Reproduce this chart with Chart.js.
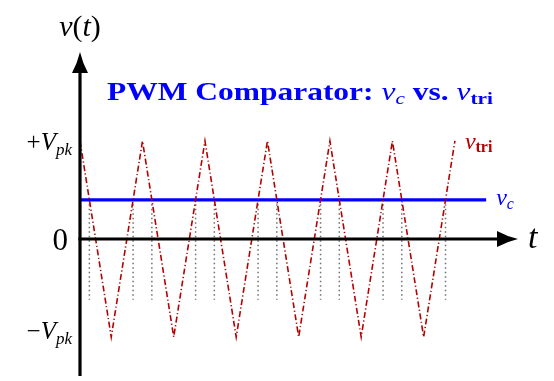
<!DOCTYPE html>
<html>
<head>
<meta charset="utf-8">
<script src="https://cdn.jsdelivr.net/npm/chart.js@4"></script>
<style>
  html, body { margin: 0; padding: 0; background: #fff; }
  #wrap { width: 554px; height: 381px; }
</style>
</head>
<body>
<div id="wrap"><canvas id="c" width="554" height="381"></canvas></div>
<script>
// ---- data (time in carrier periods, voltage in units of Vpk) ----
const triT = [0, 0.5, 1, 1.5, 2, 2.5, 3, 3.5, 4, 4.5, 5, 5.5, 6];
const triV = [1, -1, 1, -1, 1, -1, 1, -1, 1, -1, 1, -1, 1];
const vcT = [0, 6.5];
const vcLevel = 0.4;
const crossT = [0.15, 0.85, 1.15, 1.85, 2.15, 2.85, 3.15, 3.85, 4.15, 4.85, 5.15, 5.85];
const dotBottom = -0.62;
const axisX = [0, 7.01];
const axisY = [-1.398, 1.908];

const TRI_COLOR = '#b30000';
const BLUE = '#0000ff';
const SERIF = '"Liberation Serif", "DejaVu Serif", serif';

const triData = triT.map((t, i) => ({ x: t, y: triV[i] }));
const vcData = vcT.map(t => ({ x: t, y: vcLevel }));
const dotData = [];
crossT.forEach(t => { dotData.push({ x: t, y: vcLevel }, { x: t, y: dotBottom }, { x: t, y: null }); });

function drawRuns(ctx, runs, x, y, align, sx) {
  sx = sx || 1;
  let w = 0;
  runs.forEach(r => { ctx.font = r.f; r.w = ctx.measureText(r.t).width; w += r.w; });
  let cx = align === 'center' ? x - w * sx / 2 : align === 'right' ? x - w * sx : x;
  runs.forEach(r => {
    ctx.save();
    ctx.font = r.f; ctx.fillStyle = r.c;
    ctx.translate(cx, y + (r.dy || 0));
    ctx.scale(sx, 1);
    ctx.fillText(r.t, 0, 0);
    ctx.restore();
    cx += r.w * sx;
  });
  return w;
}
function measureRuns(ctx, runs) {
  let w = 0;
  runs.forEach(r => { ctx.font = r.f; w += ctx.measureText(r.t).width; });
  return w;
}

function arrow(ctx, tipX, tipY, dir, len, half) {
  ctx.beginPath();
  if (dir === 'up') {
    ctx.moveTo(tipX, tipY);
    ctx.quadraticCurveTo(tipX + half * 0.35, tipY + len * 0.55, tipX + half, tipY + len);
    ctx.lineTo(tipX - half, tipY + len);
    ctx.quadraticCurveTo(tipX - half * 0.35, tipY + len * 0.55, tipX, tipY);
  } else {
    ctx.moveTo(tipX, tipY);
    ctx.quadraticCurveTo(tipX - len * 0.55, tipY - half * 0.35, tipX - len, tipY - half);
    ctx.lineTo(tipX - len, tipY + half);
    ctx.quadraticCurveTo(tipX - len * 0.55, tipY + half * 0.35, tipX, tipY);
  }
  ctx.closePath();
  ctx.fill();
}

const decor = {
  id: 'decor',
  afterDatasetsDraw(chart) {
    const { ctx, scales: { x, y } } = chart;
    const x0 = x.getPixelForValue(0), y0 = y.getPixelForValue(0);
    const xEnd = x.getPixelForValue(axisX[1]);
    const yTop = y.getPixelForValue(axisY[1]);
    const yBot = y.getPixelForValue(axisY[0]);
    const yP = y.getPixelForValue(1), yM = y.getPixelForValue(-1);
    const yC = y.getPixelForValue(vcLevel);
    const xTri = x.getPixelForValue(triT[triT.length - 1]);
    const xVc = x.getPixelForValue(vcT[1]);
    ctx.save();
    ctx.strokeStyle = '#000'; ctx.fillStyle = '#000'; ctx.lineWidth = 3.2; ctx.lineCap = 'butt';
    ctx.beginPath(); ctx.moveTo(x0, yBot); ctx.lineTo(x0, yTop + 18); ctx.stroke();
    ctx.beginPath(); ctx.moveTo(x0 - 1.6, y0); ctx.lineTo(xEnd - 18, y0); ctx.stroke();
    arrow(ctx, x0, yTop, 'up', 21, 8);
    arrow(ctx, xEnd, y0, 'right', 21, 8);

    ctx.textBaseline = 'alphabetic';
    drawRuns(ctx, [
      { t: 'v', f: 'italic 30px ' + SERIF, c: '#000' },
      { t: '(', f: '30px ' + SERIF, c: '#000' },
      { t: 't', f: 'italic 30px ' + SERIF, c: '#000' },
      { t: ')', f: '30px ' + SERIF, c: '#000' }
    ], x0, 36, 'center');
    drawRuns(ctx, [{ t: 't', f: 'italic 34px ' + SERIF, c: '#000' }], xEnd + 10, y0 + 9, 'left');
    drawRuns(ctx, [{ t: '0', f: '31px ' + SERIF, c: '#000' }], x0 - 12, y0 + 11, 'right');
    drawRuns(ctx, [
      { t: '+', f: '25px ' + SERIF, c: '#000' },
      { t: 'V', f: 'italic 25px ' + SERIF, c: '#000' },
      { t: 'pk', f: 'italic 17px ' + SERIF, c: '#000', dy: 5 }
    ], x0 - 8, yP + 9, 'right');
    drawRuns(ctx, [
      { t: '\u2212', f: '25px ' + SERIF, c: '#000' },
      { t: 'V', f: 'italic 25px ' + SERIF, c: '#000' },
      { t: 'pk', f: 'italic 17px ' + SERIF, c: '#000', dy: 5 }
    ], x0 - 8, yM + 2, 'right');

    drawRuns(ctx, [
      { t: 'v', f: 'italic 24px ' + SERIF, c: TRI_COLOR },
      { t: 'tri', f: 'bold 16px ' + SERIF, c: TRI_COLOR, dy: 3 }
    ], xTri + 10, yP + 8, 'left');
    drawRuns(ctx, [
      { t: 'v', f: 'italic 24px ' + SERIF, c: BLUE },
      { t: 'c', f: 'italic 16px ' + SERIF, c: BLUE, dy: 4 }
    ], xVc + 10, yC + 5, 'left');

    const title = [
      { t: 'PWM Comparator: ', f: 'bold 25px ' + SERIF, c: BLUE },
      { t: 'v', f: 'italic 25px ' + SERIF, c: BLUE },
      { t: 'c', f: 'italic 17px ' + SERIF, c: BLUE, dy: 4 },
      { t: ' vs. ', f: 'bold 25px ' + SERIF, c: BLUE },
      { t: 'v', f: 'italic 25px ' + SERIF, c: BLUE },
      { t: 'tri', f: 'bold 17px ' + SERIF, c: BLUE, dy: 4 }
    ];
    const tw = measureRuns(ctx, title);
    drawRuns(ctx, title, 107, 100, 'left', 386 / tw);
    ctx.restore();
  }
};

new Chart(document.getElementById('c'), {
  type: 'line',
  data: {
    datasets: [
      { data: triData, borderColor: TRI_COLOR, borderWidth: 1.6, borderDash: [6, 2.5, 1.2, 2.5], pointRadius: 0, tension: 0, clip: false, order: 1 },
      { data: vcData, borderColor: BLUE, borderWidth: 3.2, pointRadius: 0, clip: false, order: 2 },
      { data: dotData, borderColor: '#6e6e6e', borderWidth: 1.5, borderDash: [1.5, 3], pointRadius: 0, spanGaps: false, clip: false, order: 3 }
    ]
  },
  options: {
    responsive: false,
    animation: false,
    events: [],
    layout: { padding: { left: 80, right: 36, top: 52, bottom: 5 } },
    plugins: { legend: { display: false }, tooltip: { enabled: false }, title: { display: false } },
    scales: {
      x: { type: 'linear', min: axisX[0], max: axisX[1], display: false },
      y: { type: 'linear', min: axisY[0], max: axisY[1], display: false }
    }
  },
  plugins: [decor]
});
</script>
</body>
</html>
